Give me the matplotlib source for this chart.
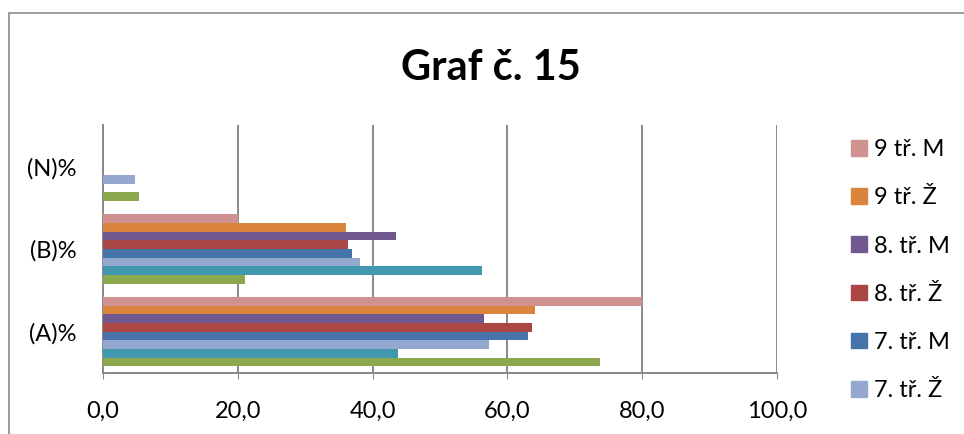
import matplotlib
matplotlib.use('Agg')
import matplotlib.pyplot as plt
import matplotlib.patches as mpatches
import numpy as np

plt.rcParams['font.family'] = ['Lato', 'DejaVu Sans']

categories = ['(A)%', '(B)%', '(N)%']

# series in drawing order (bottom bar first)
series = ['6. tř. Ž', '6. tř. M', '7. tř. Ž', '7. tř. M',
          '8. tř. Ž', '8. tř. M', '9 tř. Ž', '9 tř. M']
colors = ['#8BA84E', '#4198AF', '#95A9D0', '#4674AA',
          '#AA4644', '#71588F', '#DB843D', '#D09291']
values = [
    [73.7, 21.0, 5.3],   # 6. tř. Ž
    [43.8, 56.3, 0.0],   # 6. tř. M
    [57.2, 38.2, 4.7],   # 7. tř. Ž
    [63.0, 37.0, 0.0],   # 7. tř. M
    [63.7, 36.4, 0.0],   # 8. tř. Ž
    [56.6, 43.5, 0.0],   # 8. tř. M
    [64.1, 36.0, 0.0],   # 9 tř. Ž
    [80.0, 20.0, 0.0],   # 9 tř. M
]
legend_shown = ['9 tř. M', '9 tř. Ž', '8. tř. M', '8. tř. Ž', '7. tř. M', '7. tř. Ž']

fig = plt.figure(figsize=(9.64, 4.34), dpi=100)
ax = fig.add_axes([103/964, 1 - 373/434, 674/964, 248/434])

n = len(series)
h = 1 / (n + 1.5)
y = np.arange(len(categories))
for i, (name, vals, c) in enumerate(zip(series, values, colors)):
    ax.barh(y - (n / 2) * h + (i + 0.5) * h, vals, height=h, color=c,
            label=name, zorder=3)

ax.set_xlim(0, 100)
ax.set_ylim(-0.5, 2.5)
ax.set_xticks(np.arange(0, 101, 20))
ax.set_xticklabels([f'{v:.1f}'.replace('.', ',') for v in range(0, 101, 20)])
ax.set_yticks(y)
ax.set_yticklabels(categories)
ax.grid(axis='x', color='#898989', linewidth=1.4, zorder=0)
for s in ['top', 'right']:
    ax.spines[s].set_visible(False)
for s in ['left', 'bottom']:
    ax.spines[s].set_color('#898989')
    ax.spines[s].set_linewidth(1.4)
ax.tick_params(axis='x', length=4, color='#898989', pad=16, labelsize=17)
ax.tick_params(axis='y', length=0, pad=19, labelsize=17)

fig.text(491/964, 1 - 68/434, 'Graf č. 15', ha='center', va='center',
         fontsize=30, fontweight='bold')

handles = {name: mpatches.Patch(color=c) for name, c in zip(series, colors)}
fig.legend([handles[s] for s in legend_shown], legend_shown,
           loc='upper left', bbox_to_anchor=(830/964, 1 - 118/434),
           frameon=False, fontsize=17, handlelength=0.65, handleheight=0.65,
           handletextpad=0.3, labelspacing=1.15)

# outer chart border (cut off at right and bottom)
fig.patches.append(mpatches.Rectangle((9/964, -0.1), 1.2, 1.1 - 13/434,
                                      transform=fig.transFigure, fill=False,
                                      edgecolor='#8c8c8c', linewidth=1.2))

fig.savefig('out.png', dpi=100)
